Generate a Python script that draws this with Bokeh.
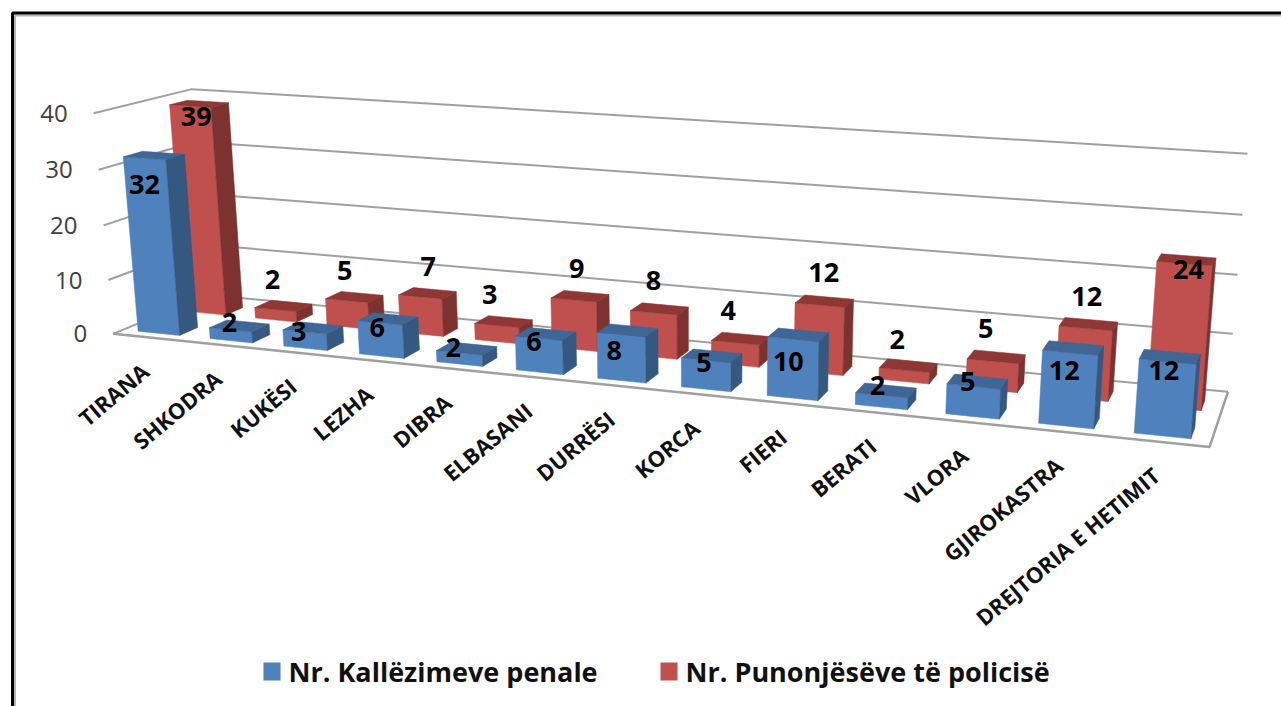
import numpy as np
from bokeh.plotting import figure
from bokeh.models import Range1d
from bokeh.embed import file_html
from bokeh.resources import INLINE
from bokeh.core.properties import value

categories = ["TIRANA", "SHKODRA", "KUKËSI", "LEZHA", "DIBRA", "ELBASANI", "DURRËSI",
              "KORCA", "FIERI", "BERATI", "VLORA", "GJIROKASTRA", "DREJTORIA E HETIMIT"]
kallezime = [32, 2, 3, 6, 2, 6, 8, 5, 10, 2, 5, 12, 12]
punonjes = [39, 2, 5, 7, 3, 9, 8, 4, 12, 2, 5, 12, 24]
y_ticks = [0, 10, 20, 30, 40]
series_names = ["Nr. Kallëzimeve penale", "Nr. Punonjësëve të policisë"]

# label nudges relative to the top of each bar (layout only)
RED_DX = [6, -3, -2, 8, -7, 3, 0, -7, 4, -7, -7, 1, 4]
RED_DY = [10, -30, -30, -30, -31, -32, -32, -32, -33, -31, -33, -32, 6]
BLUE_DX = [0, -1, -6, -3, -6, -5, -7, -2, -5, -4, -6, -6, -4]
BLUE_DY = [26, -7, 0, 5, -5, 3, 16, 2, 22, -10, -5, 18, 9]

N = len(categories)
BAR = 0.58
RED_D = (0.60, 0.79)
BLUE_D = (0.10, 0.29)
U0 = (1 - BAR) / 2
U1 = U0 + BAR

# camera calibration: (category position, depth, value) -> screen pixel
calib = [
    ((0, 0, 0), (111, 333)), ((0, 0, 10), (106, 281)), ((0, 0, 20), (101, 225)),
    ((0, 0, 30), (96, 170)), ((0, 0, 40), (91, 113)),
    ((0, 1, 0), (208, 297)), ((0, 1, 40), (189, 89)),
    ((N, 1, 0), (1226, 395)), ((N, 1, 10), (1232, 334)), ((N, 1, 20), (1237, 275)),
    ((N, 1, 30), (1242, 212)), ((N, 1, 40), (1247, 150)),
    ((N, 0, 0), (1208, 449)), ((N, 0, 40), (1228, 193)),
    ((U0, BLUE_D[0], 0), (140, 330)), ((U0, BLUE_D[0], 32), (127, 157)),
    ((U1, BLUE_D[0], 0), (180, 332)), ((U1, BLUE_D[0], 32), (168, 158)),
    ((U1, RED_D[0], 0), (224, 313)), ((U1, RED_D[0], 39), (213, 107)),
    ((12 + U0, BLUE_D[0], 0), (1133, 432)), ((12 + U0, BLUE_D[0], 12), (1139, 360)),
    ((12 + U1, BLUE_D[0], 0), (1193, 435)), ((12 + U1, BLUE_D[0], 12), (1197, 362)),
    ((12 + U1, RED_D[0], 0), (1200, 410)), ((12 + U1, RED_D[0], 24), (1213, 263)),
]
A, b = [], []
for (X, Y, Z), (sx, sy) in calib:
    A.append([X, Y, Z, 1, 0, 0, 0, 0, -sx * X, -sx * Y, -sx * Z]); b.append(sx)
    A.append([0, 0, 0, 0, X, Y, Z, 1, -sy * X, -sy * Y, -sy * Z]); b.append(sy)
h = np.linalg.lstsq(np.array(A, float), np.array(b, float), rcond=None)[0]
P = np.append(h, 1.0).reshape(3, 4)


def proj(u, d, v):
    q = P @ np.array([u, d, v, 1.0])
    return float(q[0] / q[2]), float(q[1] / q[2])


def poly(*pts):
    s = [proj(*t) for t in pts]
    return [a for a, _ in s], [c for _, c in s]


p = figure(width=1281, height=706, output_backend="svg", toolbar_location=None,
           x_range=Range1d(0, 1281), y_range=Range1d(706, 0),
           min_border=0, outline_line_color=None, background_fill_color="white",
           border_fill_color="white")
p.axis.visible = False
p.grid.visible = False

# frame
p.line([14.5, 14.5, 1281], [706, 15, 15], line_color="#b5b5b5", line_width=2)
p.line([12, 12, 1281], [706, 12.5, 12.5], line_color="#000000", line_width=3)

# walls and floor
GRID = "#a0a0a0"
for t in y_ticks:
    xs, ys = poly((0, 0, t), (0, 1, t), (N, 1, t))
    p.line(xs, ys, line_color=GRID, line_width=2)
xs, ys = poly((0, 0, 0), (N, 0, 0), (N, 1, 0))
p.line(xs, ys, line_color=GRID, line_width=2.5)

# tick labels
for t in y_ticks:
    x, y = proj(0, 0, t)
    p.text([x - 26], [y], text=[str(t)], text_align="right", text_baseline="middle",
           text_font=value("Open Sans"), text_font_size="24px", text_color="#404040")

C_BLUE = ("#4F81BD", "#3F6694", "#34587F")
C_RED = ("#C0504D", "#8E3735", "#7D3230")
LABEL = dict(text_font=value("Open Sans"), text_font_style="bold", text_font_size="27px",
             text_color="#000000", text_align="center", text_baseline="middle")


def draw(vals, dep, cols):
    d0, d1 = dep
    for i in range(N - 1, -1, -1):
        u0 = i + U0
        u1 = i + U1
        v = vals[i]
        for c, face in (
            (cols[0], ((u0, d0, 0), (u1, d0, 0), (u1, d0, v), (u0, d0, v))),
            (cols[1], ((u0, d0, v), (u1, d0, v), (u1, d1, v), (u0, d1, v))),
            (cols[2], ((u1, d0, 0), (u1, d1, 0), (u1, d1, v), (u1, d0, v))),
        ):
            xs, ys = poly(*face)
            p.patch(xs, ys, fill_color=c, line_color=c, line_width=0.5)


draw(punonjes, RED_D, C_RED)
draw(kallezime, BLUE_D, C_BLUE)

for i in range(N):
    x, y = proj(i + 0.5, RED_D[0], punonjes[i])
    p.text([x + RED_DX[i]], [y + RED_DY[i]], text=[str(punonjes[i])], **LABEL)
for i in range(N):
    x, y = proj(i + 0.5, BLUE_D[0], kallezime[i])
    p.text([x + BLUE_DX[i]], [y + BLUE_DY[i]], text=[str(kallezime[i])], **LABEL)

# category labels
for i, name in enumerate(categories):
    x, y = proj(i + 0.5, 0, 0)
    p.text([x - 4], [y + 30], text=[name], angle=[np.radians(40)], text_align="right",
           text_baseline="middle", text_font=value("Open Sans"), text_font_style="bold",
           text_font_size="22px", text_color="#111111")

# legend
LEG_X = [263, 660]
for j, (nm, c) in enumerate(zip(series_names, (C_BLUE[0], C_RED[0]))):
    p.quad(left=[LEG_X[j]], right=[LEG_X[j] + 17], top=[662], bottom=[680], fill_color=c, line_color=None)
    p.text([LEG_X[j] + 25], [671], text=[nm], text_align="left", text_baseline="middle",
           text_font=value("Open Sans"), text_font_style="bold", text_font_size="27px",
           text_color="#111111")

open("out.html", "w").write(file_html(p, INLINE))
